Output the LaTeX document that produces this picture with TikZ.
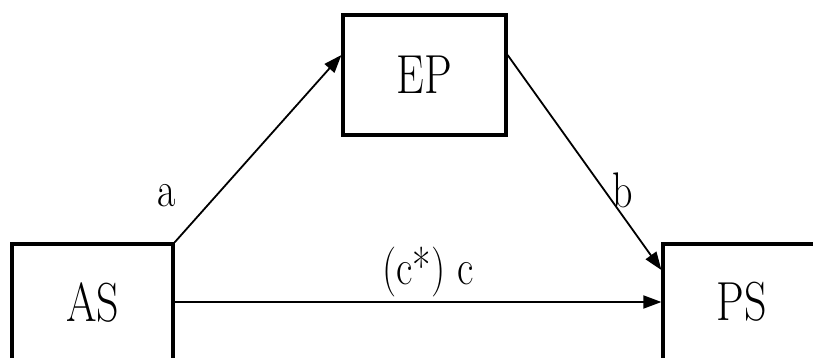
\documentclass[tikz,border=0pt]{standalone}
\newcommand{\sqz}[1]{\scalebox{0.8}[1]{#1}}
\usetikzlibrary{arrows.meta,calc}
\begin{document}
\begin{tikzpicture}[x=1pt,y=-1pt,
  box/.style={draw,line width=3.2pt,inner sep=0pt,font=\fontsize{55}{55}\selectfont},
  conn/.style={line width=1.8pt,-{Triangle[length=18pt,width=13pt]}},
  lab/.style={font=\fontsize{50}{50}\selectfont,inner sep=0pt}]
\useasboundingbox (0,0) rectangle (813,358);
\clip (0,0) rectangle (813,358);
\node[box,minimum width=161pt,minimum height=116pt] (AS) at (92.5,302) {\sqz{AS}};
\node[box,minimum width=163pt,minimum height=120pt] (EP) at (424.5,75) {\sqz{EP}};
\node[box,minimum width=158pt,minimum height=116pt] (PS) at (742,302) {\sqz{PS}};
\draw[conn] (AS.north east) -- ($(EP.west)+(0,-20)$);
\draw[conn] ($(EP.east)+(0,-20)$) -- ($(PS.west)+(0,-32)$);
\draw[conn] (AS.east) -- (PS.west);
\node[lab] (la) at (167,196) {\sqz{a}};
\node[lab] (lb) at (623,190) {\sqz{b}};
\node[lab] (lc) at (428,272) {\sqz{(c*) c}};
\end{tikzpicture}
\end{document}
